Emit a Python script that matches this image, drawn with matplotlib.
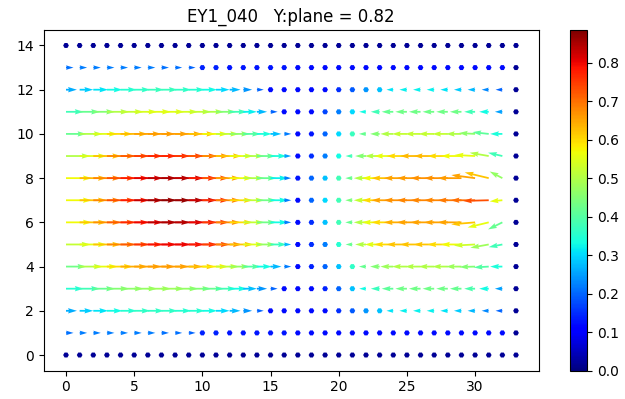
import numpy as np
import matplotlib
matplotlib.use('Agg')
import matplotlib.pyplot as plt

# grid of the plane
x_pts = np.arange(34)
y_pts = np.arange(15)

# colour (speed) per row, y = 0 .. 14, x = 0 .. 33
C_rows = [
    [0.02, 0.02, 0.02, 0.02, 0.02, 0.02, 0.02, 0.02, 0.02, 0.02, 0.02, 0.02, 0.02, 0.02, 0.02, 0.02, 0.02,
     0.02, 0.02, 0.02, 0.02, 0.02, 0.02, 0.02, 0.02, 0.02, 0.02, 0.02, 0.02, 0.02, 0.02, 0.02, 0.02, 0.02],
    [0.21, 0.22, 0.22, 0.22, 0.22, 0.22, 0.22, 0.21, 0.21, 0.20, 0.14, 0.14, 0.13, 0.13, 0.13, 0.13, 0.13,
     0.12, 0.12, 0.12, 0.12, 0.12, 0.12, 0.12, 0.12, 0.12, 0.12, 0.12, 0.12, 0.12, 0.12, 0.12, 0.12, 0.02],
    [0.26, 0.29, 0.31, 0.33, 0.35, 0.36, 0.36, 0.36, 0.35, 0.35, 0.33, 0.30, 0.27, 0.24, 0.20, 0.12, 0.12,
     0.12, 0.12, 0.12, 0.15, 0.19, 0.24, 0.28, 0.31, 0.32, 0.32, 0.32, 0.31, 0.29, 0.27, 0.23, 0.20, 0.02],
    [0.35, 0.38, 0.42, 0.45, 0.46, 0.47, 0.48, 0.48, 0.47, 0.45, 0.42, 0.38, 0.33, 0.28, 0.24, 0.20, 0.12,
     0.12, 0.12, 0.14, 0.20, 0.28, 0.33, 0.37, 0.41, 0.43, 0.43, 0.43, 0.43, 0.42, 0.39, 0.33, 0.25, 0.02],
    [0.43, 0.50, 0.56, 0.60, 0.64, 0.65, 0.66, 0.66, 0.65, 0.62, 0.58, 0.52, 0.47, 0.40, 0.33, 0.27, 0.22,
     0.12, 0.14, 0.20, 0.28, 0.36, 0.42, 0.45, 0.48, 0.50, 0.50, 0.50, 0.50, 0.48, 0.45, 0.40, 0.34, 0.02],
    [0.52, 0.56, 0.62, 0.68, 0.72, 0.76, 0.79, 0.80, 0.80, 0.78, 0.74, 0.68, 0.62, 0.55, 0.47, 0.37, 0.27,
     0.12, 0.15, 0.22, 0.35, 0.42, 0.50, 0.55, 0.60, 0.62, 0.62, 0.62, 0.60, 0.57, 0.53, 0.48, 0.38, 0.02],
    [0.57, 0.62, 0.67, 0.72, 0.77, 0.80, 0.84, 0.85, 0.84, 0.80, 0.75, 0.68, 0.60, 0.52, 0.43, 0.33, 0.22,
     0.12, 0.15, 0.28, 0.38, 0.42, 0.50, 0.56, 0.60, 0.64, 0.65, 0.65, 0.65, 0.65, 0.62, 0.56, 0.42, 0.02],
    [0.57, 0.62, 0.68, 0.73, 0.78, 0.83, 0.86, 0.87, 0.86, 0.82, 0.76, 0.68, 0.60, 0.52, 0.43, 0.33, 0.22,
     0.12, 0.20, 0.30, 0.38, 0.44, 0.52, 0.60, 0.65, 0.67, 0.68, 0.68, 0.68, 0.69, 0.70, 0.73, 0.56, 0.02],
    [0.57, 0.63, 0.68, 0.73, 0.78, 0.81, 0.84, 0.85, 0.83, 0.78, 0.72, 0.65, 0.57, 0.50, 0.42, 0.32, 0.22,
     0.13, 0.20, 0.28, 0.38, 0.42, 0.50, 0.57, 0.62, 0.65, 0.66, 0.67, 0.67, 0.66, 0.65, 0.62, 0.47, 0.02],
    [0.50, 0.55, 0.62, 0.68, 0.72, 0.75, 0.77, 0.77, 0.75, 0.72, 0.67, 0.62, 0.56, 0.50, 0.42, 0.34, 0.25,
     0.12, 0.15, 0.22, 0.33, 0.38, 0.45, 0.50, 0.56, 0.60, 0.63, 0.63, 0.60, 0.57, 0.56, 0.50, 0.38, 0.02],
    [0.42, 0.50, 0.55, 0.60, 0.63, 0.65, 0.66, 0.66, 0.65, 0.62, 0.57, 0.52, 0.46, 0.40, 0.34, 0.28, 0.22,
     0.12, 0.13, 0.20, 0.30, 0.37, 0.42, 0.45, 0.50, 0.52, 0.52, 0.52, 0.52, 0.50, 0.46, 0.41, 0.34, 0.02],
    [0.38, 0.42, 0.45, 0.50, 0.52, 0.54, 0.55, 0.55, 0.54, 0.52, 0.50, 0.45, 0.38, 0.32, 0.27, 0.20, 0.12,
     0.12, 0.12, 0.17, 0.22, 0.30, 0.33, 0.38, 0.42, 0.43, 0.43, 0.43, 0.43, 0.43, 0.38, 0.33, 0.25, 0.02],
    [0.26, 0.29, 0.31, 0.33, 0.35, 0.36, 0.37, 0.37, 0.36, 0.35, 0.33, 0.30, 0.27, 0.24, 0.20, 0.12, 0.12,
     0.12, 0.12, 0.12, 0.15, 0.19, 0.24, 0.28, 0.31, 0.32, 0.32, 0.32, 0.31, 0.29, 0.27, 0.23, 0.20, 0.02],
    [0.21, 0.22, 0.22, 0.22, 0.22, 0.22, 0.22, 0.21, 0.21, 0.20, 0.14, 0.14, 0.13, 0.13, 0.13, 0.13, 0.13,
     0.12, 0.12, 0.12, 0.12, 0.12, 0.12, 0.12, 0.12, 0.12, 0.12, 0.12, 0.12, 0.12, 0.12, 0.12, 0.12, 0.02],
    [0.02, 0.02, 0.02, 0.02, 0.02, 0.02, 0.02, 0.02, 0.02, 0.02, 0.02, 0.02, 0.02, 0.02, 0.02, 0.02, 0.02,
     0.02, 0.02, 0.02, 0.02, 0.02, 0.02, 0.02, 0.02, 0.02, 0.02, 0.02, 0.02, 0.02, 0.02, 0.02, 0.02, 0.02],
]

# in-plane x component per row
U_rows = [
    [0, 0, 0, 0, 0, 0, 0, 0, 0, 0, 0, 0, 0, 0, 0, 0, 0, 0, 0, 0, 0, 0, 0, 0, 0, 0, 0, 0, 0, 0, 0, 0, 0, 0],
    [0.55, 0.55, 0.55, 0.55, 0.55, 0.55, 0.55, 0.55, 0.52, 0.5, 0, 0, 0, 0, 0, 0, 0,
     0, 0, 0, 0, 0, 0, 0, 0, 0, 0, 0, 0, 0, 0, 0, 0, 0],
    [0.8, 1.0, 1.1, 1.15, 1.2, 1.2, 1.2, 1.2, 1.2, 1.2, 1.1, 1.0, 0.8, 0.65, 0.5, 0, 0,
     0, 0, 0, 0, 0, 0, 0, -0.5, -0.55, -0.55, -0.55, -0.55, -0.55, -0.55, -0.52, -0.5, 0],
    [1.3, 1.5, 1.6, 1.65, 1.7, 1.7, 1.7, 1.7, 1.7, 1.65, 1.6, 1.5, 1.3, 1.0, 0.75, 0.52, 0,
     0, 0, 0, 0, 0, -0.5, -0.65, -0.85, -0.85, -0.85, -0.85, -0.85, -0.85, -0.8, -0.7, -0.55, 0],
    [1.5, 1.7, 1.8, 1.9, 2.0, 2.0, 2.0, 2.0, 2.0, 1.95, 1.9, 1.7, 1.5, 1.3, 1.1, 0.8, 0.52,
     0, 0, 0, 0, 0, -0.52, -0.7, -0.95, -1.1, -1.15, -1.15, -1.15, -1.15, -1.15, -1.1, -0.9, 0],
    [1.8, 2.0, 2.05, 2.1, 2.1, 2.1, 2.1, 2.1, 2.1, 2.1, 2.0, 1.9, 1.75, 1.55, 1.4, 1.2, 0.52,
     0, 0, 0, 0, -0.5, -0.8, -1.1, -1.4, -1.5, -1.5, -1.5, -1.5, -1.5, -1.55, -1.35, -1.0, 0],
    [1.9, 2.0, 2.05, 2.1, 2.1, 2.1, 2.1, 2.1, 2.1, 2.05, 1.95, 1.8, 1.7, 1.55, 1.45, 1.3, 0.52,
     0, 0, 0, 0, -0.52, -0.9, -1.3, -1.6, -1.7, -1.75, -1.75, -1.75, -1.75, -1.75, -1.55, -1.05, 0],
    [1.9, 2.0, 2.05, 2.1, 2.1, 2.1, 2.1, 2.1, 2.1, 2.05, 1.95, 1.8, 1.7, 1.55, 1.45, 1.3, 0.52,
     0, 0, 0, 0, -0.52, -0.9, -1.3, -1.6, -1.7, -1.75, -1.75, -1.75, -1.75, -1.8, -1.88, -0.93, 0],
    [1.9, 2.0, 2.05, 2.1, 2.1, 2.1, 2.1, 2.1, 2.1, 2.05, 1.95, 1.8, 1.7, 1.55, 1.45, 1.3, 0.52,
     0, 0, 0, 0, -0.52, -0.9, -1.3, -1.6, -1.7, -1.75, -1.75, -1.75, -1.75, -1.74, -1.76, -0.93, 0],
    [1.8, 2.0, 2.05, 2.1, 2.1, 2.1, 2.1, 2.1, 2.1, 2.1, 2.0, 1.9, 1.75, 1.55, 1.4, 1.2, 0.52,
     0, 0, 0, 0, -0.5, -0.8, -1.1, -1.4, -1.5, -1.5, -1.5, -1.5, -1.5, -1.5, -1.4, -1.05, 0],
    [1.5, 1.7, 1.8, 1.9, 2.0, 2.0, 2.0, 2.0, 2.0, 1.95, 1.9, 1.7, 1.5, 1.3, 1.1, 0.8, 0.52,
     0, 0, 0, 0, 0, -0.52, -0.7, -0.95, -1.1, -1.15, -1.15, -1.15, -1.15, -1.2, -1.2, -0.9, 0],
    [1.3, 1.5, 1.6, 1.65, 1.7, 1.7, 1.7, 1.7, 1.7, 1.65, 1.6, 1.5, 1.3, 1.0, 0.75, 0.52, 0,
     0, 0, 0, 0, 0, -0.5, -0.65, -0.85, -0.85, -0.85, -0.85, -0.85, -0.85, -0.8, -0.7, -0.55, 0],
    [0.8, 1.0, 1.1, 1.15, 1.2, 1.2, 1.2, 1.2, 1.2, 1.2, 1.1, 1.0, 0.8, 0.65, 0.5, 0, 0,
     0, 0, 0, 0, 0, 0, 0, -0.5, -0.55, -0.55, -0.55, -0.55, -0.55, -0.55, -0.52, -0.5, 0],
    [0.55, 0.55, 0.55, 0.55, 0.55, 0.55, 0.55, 0.55, 0.52, 0.5, 0, 0, 0, 0, 0, 0, 0,
     0, 0, 0, 0, 0, 0, 0, 0, 0, 0, 0, 0, 0, 0, 0, 0, 0],
    [0, 0, 0, 0, 0, 0, 0, 0, 0, 0, 0, 0, 0, 0, 0, 0, 0, 0, 0, 0, 0, 0, 0, 0, 0, 0, 0, 0, 0, 0, 0, 0, 0, 0],
]

# in-plane y component, only non zero near the right wall (x = 30, 31, 32)
V_right = {
    4: [-0.02, -0.04, 0.0],
    5: [-0.05, -0.15, -0.12],
    6: [-0.09, -0.23, -0.32],
    7: [0.0, -0.03, -0.05],
    8: [0.14, 0.26, 0.30],
    9: [0.05, 0.15, 0.15],
    10: [0.04, 0.08, 0.0],
}

X, Y = np.meshgrid(x_pts, y_pts)
U = np.array(U_rows, dtype=float)
C = np.array(C_rows)
V = np.zeros_like(U)
for row, vals in V_right.items():
    V[row, 30:33] = vals

fig = plt.figure(figsize=(6.25, 3.99), dpi=100)
ax = fig.add_axes([43.5/625, 28.5/399, 495/625, 340.5/399])
q = ax.quiver(X, Y, U, V, C, cmap='jet', angles='xy', scale_units='xy', scale=1,
              width=0.0036, minlength=3.2)
q.set_clim(0, 0.885)
ax.set_title('EY1_040   Y:plane = 0.82')

cax = fig.add_axes([570/625, 28.5/399, 17.3/625, 340.5/399])
fig.colorbar(q, cax=cax)

fig.savefig('out.png')
